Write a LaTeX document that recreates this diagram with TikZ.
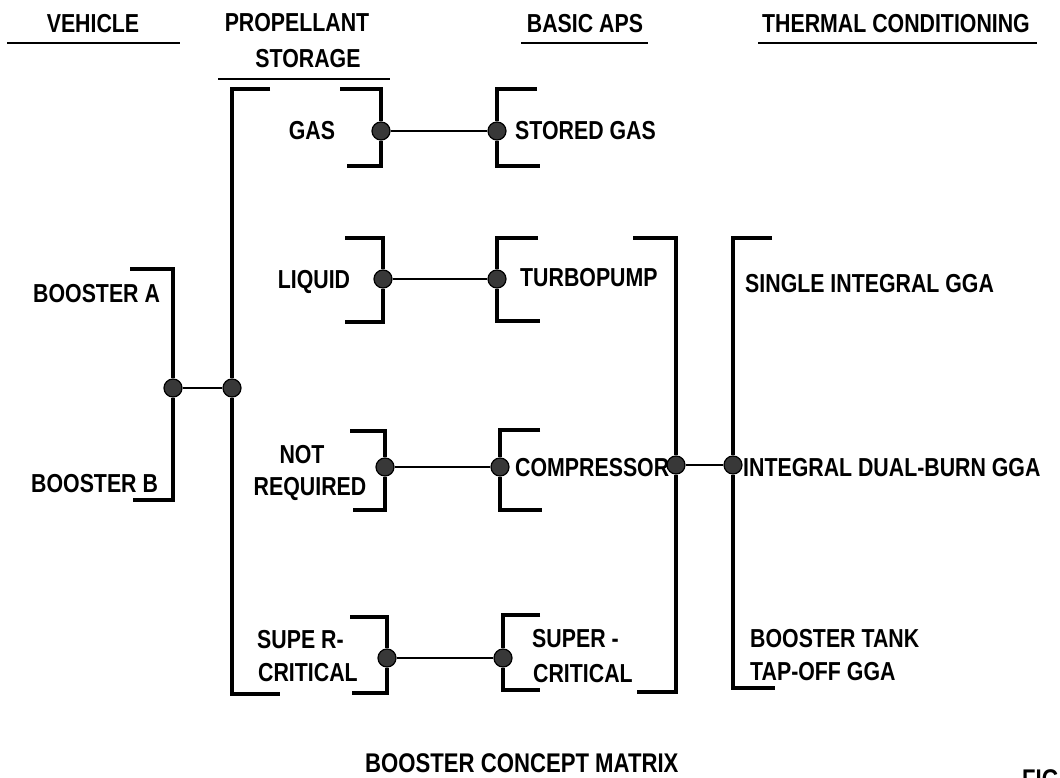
\documentclass[tikz,border=0pt]{standalone}
\usepackage{fontspec}
\setmainfont{Liberation Sans}[FakeStretch=0.82]
\begin{document}
\begin{tikzpicture}[x=1pt,y=-1pt,
  lbl/.style={font=\fontsize{26}{30}\selectfont\bfseries, inner sep=0pt},
  ttl/.style={font=\fontsize{27}{31}\selectfont\bfseries, inner sep=0pt},
  dot/.style={circle, draw=black, fill=black!78, line width=1.2pt, minimum size=18pt, inner sep=0pt},
  br/.style={line width=3.4pt, line join=miter, black},
  conn/.style={line width=2.6pt, black},
  uline/.style={line width=2.4pt, black}]
\path[use as bounding box] (0,0) rectangle (1060,778);
\clip (0,0) rectangle (1060,778);
\fill[white] (0,0) rectangle (1060,778);

% headers
\node[lbl, anchor=base] (hVeh) at (93,33) {VEHICLE};
\node[lbl, anchor=base] (hProp1) at (297,32) {PROPELLANT};
\node[lbl, anchor=base] (hProp2) at (308,68) {STORAGE};
\node[lbl, anchor=base] (hAps) at (585,33) {BASIC APS};
\node[lbl, anchor=base] (hTh) at (896,33) {THERMAL CONDITIONING};
\draw[uline] (7,43) -- (180,43);
\draw[uline] (218,79) -- (390,79);
\draw[uline] (521,43) -- (648,43);
\draw[uline] (758,43) -- (1037,43);

% dots
\node[dot] (dV) at (173,388) {};
\node[dot] (dP) at (232,388) {};
\node[dot] (dG) at (381,131) {};
\node[dot] (dSG) at (497,131) {};
\node[dot] (dL) at (383,279) {};
\node[dot] (dT) at (497,279) {};
\node[dot] (dN) at (385,467) {};
\node[dot] (dC) at (500,467) {};
\node[dot] (dS1) at (387,658) {};
\node[dot] (dS2) at (503,658) {};
\node[dot] (dA) at (676,465) {};
\node[dot] (dTh) at (733,465) {};

% brackets
\draw[br] (130,269) -| (dV) |- (133,500);
\draw[br] (270,89) -| (dP) |- (280,694);
\draw[br] (340,89) -| (dG) |- (347,166);
\draw[br] (537,89) -| (dSG) |- (540,166);
\draw[br] (345,238) -| (dL) |- (345,322);
\draw[br] (538,238) -| (dT) |- (540,321);
\draw[br] (350,431) -| (dN) |- (353,510);
\draw[br] (540,430) -| (dC) |- (542,510);
\draw[br] (350,617) -| (dS1) |- (352,693);
\draw[br] (540,615) -| (dS2) |- (540,690);
\draw[br] (633,238) -| (dA) |- (637,692);
\draw[br] (772,238) -| (dTh) |- (775,688);

% connectors
\draw[conn] (dV) -- (dP);
\draw[conn] (dG) -- (dSG);
\draw[conn] (dL) -- (dT);
\draw[conn] (dN) -- (dC);
\draw[conn] (dS1) -- (dS2);
\draw[conn] (dA) -- (dTh);

% labels
\node[lbl, anchor=base west] (tBA) at (33,302) {BOOSTER A};
\node[lbl, anchor=base west] (tBB) at (31,492) {BOOSTER B};
\node[lbl, anchor=base] (tGas) at (312,140) {GAS};
\node[lbl, anchor=base west] (tSG) at (515,140) {STORED GAS};
\node[lbl, anchor=base] (tLiq) at (314,288) {LIQUID};
\node[lbl, anchor=base west] (tTP) at (520,286) {TURBOPUMP};
\node[lbl, anchor=base] (tNot) at (302,463) {NOT};
\node[lbl, anchor=base] (tReq) at (310,495) {REQUIRED};
\node[lbl, anchor=base west] (tCmp) at (515,476) {COMPRESSOR};
\node[lbl, anchor=base west] (tSup1) at (257,648) {SUPE R-};
\node[lbl, anchor=base west] (tCrit1) at (258,681) {CRITICAL};
\node[lbl, anchor=base west] (tSup2) at (532,647) {SUPER -};
\node[lbl, anchor=base west] (tCrit2) at (533,682) {CRITICAL};
\node[lbl, anchor=base west] (tSIG) at (745,292) {SINGLE INTEGRAL GGA};
\node[lbl, anchor=base west] (tIDB) at (743,476) {INTEGRAL DUAL-BURN GGA};
\node[lbl, anchor=base west] (tBT) at (750,647) {BOOSTER TANK};
\node[lbl, anchor=base west] (tTO) at (750,680) {TAP-OFF GGA};

% title
\node[ttl, anchor=base west] (title) at (365,772) {BOOSTER CONCEPT MATRIX};
\node[ttl, anchor=base west] (fig) at (1022,788) {FIG};
\end{tikzpicture}
\end{document}
